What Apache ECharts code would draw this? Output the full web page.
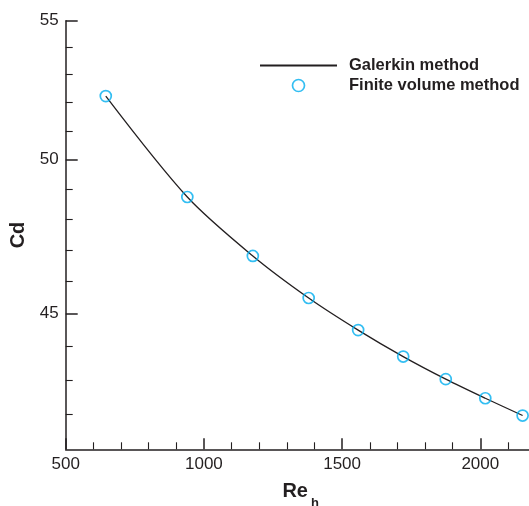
<!DOCTYPE html>
<html>
<head>
<meta charset="utf-8">
<script src="https://cdn.jsdelivr.net/npm/echarts@6/dist/echarts.min.js"></script>
<style>
  html, body { margin: 0; padding: 0; background: #fff; }
  #chart { width: 529px; height: 506px; }
</style>
</head>
<body>
<div id="chart"></div>
<script>
// values
const reh = [645, 940, 1177, 1379, 1558, 1721, 1875, 2018, 2153];
const cdGalerkin = [52.23, 48.74, 46.81, 45.48, 44.49, 43.69, 43.02, 42.46, 41.96];
const cdFiniteVolume = [52.23, 48.74, 46.81, 45.48, 44.49, 43.69, 43.02, 42.46, 41.96];

const xMajorTicks = [500, 1000, 1500, 2000];
const xMinorTicks = [600, 700, 800, 900, 1100, 1200, 1300, 1400, 1600, 1700, 1800, 1900, 2100];
const yMajorTicks = [45, 50, 55];
const yMinorTicks = [42, 43, 44, 46, 47, 48, 49, 51, 52, 53, 54];

const ink = '#231f20';
const cyan = '#00aeef';
const font = 'Liberation Sans';

const chart = echarts.init(document.getElementById('chart'));

const pairs = (xs, ys) => xs.map((x, i) => [x, ys[i]]);

chart.setOption({
  animation: false,
  textStyle: { fontFamily: font },
  grid: {
    left: 65.7,
    top: 20.7,
    bottom: 56.7,
    right: -6.6,
    outerBoundsMode: 'none'
  },
  legend: {
    orient: 'vertical',
    left: 259,
    top: 57,
    padding: 0,
    itemWidth: 77,
    itemHeight: 12,
    itemGap: 3,
    textStyle: { fontSize: 16.5, fontWeight: 'bold', color: ink, fontFamily: font, padding: [0, 0, 0, 7] },
    data: [
      {
        name: 'Galerkin method',
        itemStyle: { color: 'rgba(0,0,0,0)', borderWidth: 0, opacity: 0 }
      },
      {
        name: 'Finite volume method',
        icon: 'circle',
        itemStyle: { color: 'rgba(0,0,0,0)', borderColor: cyan, borderWidth: 1.7 }
      }
    ]
  },
  xAxis: [
    {
      type: 'value',
      min: 500,
      max: 2200,
      name: '{r|Re}{s|h}',
      nameLocation: 'middle',
      nameGap: 24,
      nameTextStyle: {
        rich: {
          r: { fontSize: 20, fontWeight: 'bold', color: ink, fontFamily: font },
          s: { fontSize: 13, fontWeight: 'bold', color: ink, fontFamily: font, padding: [24, 0, 0, 3] }
        }
      },
      splitLine: { show: false },
      axisLine: { lineStyle: { color: ink, width: 1.5 } },
      axisTick: { inside: true, length: 11, customValues: xMajorTicks, lineStyle: { color: ink, width: 1.5 } },
      axisLabel: {
        customValues: xMajorTicks,
        formatter: v => String(v),
        margin: 7, fontSize: 17, color: ink, fontFamily: font
      }
    },
    {
      type: 'value',
      min: 500,
      max: 2200,
      position: 'bottom',
      splitLine: { show: false },
      axisLine: { show: false },
      axisLabel: { show: false },
      axisTick: { inside: true, length: 7, customValues: xMinorTicks, lineStyle: { color: ink, width: 1.1 } }
    }
  ],
  yAxis: [
    {
      type: 'log',
      min: 41,
      max: 55,
      name: 'Cd',
      nameLocation: 'middle',
      nameGap: 32,
      nameTextStyle: { fontSize: 20, fontWeight: 'bold', color: ink, fontFamily: font },
      splitLine: { show: false },
      axisLine: { lineStyle: { color: ink, width: 1.5 } },
      axisTick: { inside: true, length: 12, customValues: yMajorTicks, lineStyle: { color: ink, width: 1.5 } },
      axisLabel: {
        customValues: yMajorTicks,
        formatter: v => String(Math.round(v)),
        margin: 7, fontSize: 17, color: ink, fontFamily: font
      }
    },
    {
      type: 'log',
      min: 41,
      max: 55,
      position: 'left',
      splitLine: { show: false },
      axisLine: { show: false },
      axisLabel: { show: false },
      axisTick: { inside: true, length: 7, customValues: yMinorTicks, lineStyle: { color: ink, width: 1.1 } }
    }
  ],
  series: [
    {
      name: 'Galerkin method',
      type: 'line',
      smooth: 0.3,
      symbol: 'none',
      color: ink,
      lineStyle: { color: ink, width: 1.3 },
      data: pairs(reh, cdGalerkin),
      z: 2
    },
    {
      name: 'Finite volume method',
      type: 'scatter',
      symbol: 'circle',
      symbolSize: 11,
      itemStyle: { color: 'rgba(0,0,0,0)', borderColor: cyan, borderWidth: 1.7 },
      data: pairs(reh, cdFiniteVolume),
      z: 3
    }
  ]
});
</script>
</body>
</html>
